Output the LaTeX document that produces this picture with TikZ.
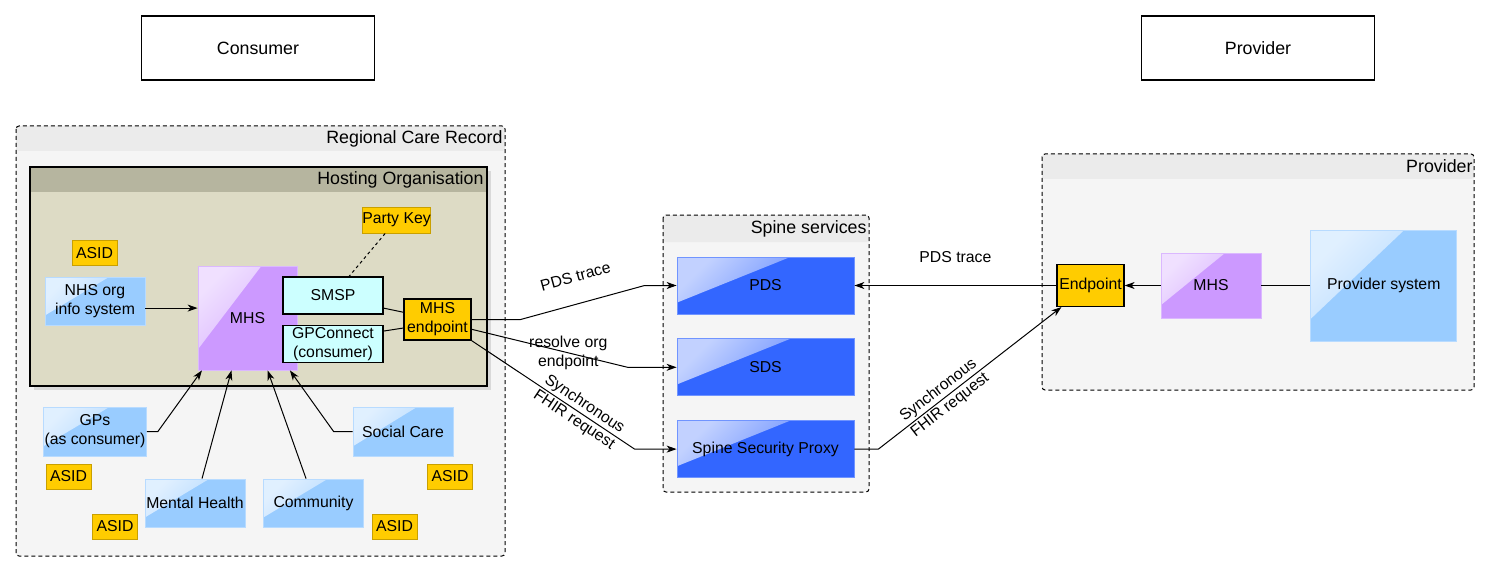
\documentclass[tikz,border=0pt]{standalone}
\usepackage{fontspec}
\setmainfont{Liberation Sans}
\usetikzlibrary{positioning,calc,arrows.meta}

\definecolor{grpbody}{HTML}{F5F5F5}
\definecolor{grphead}{HTML}{EBEBEB}
\definecolor{hostbody}{HTML}{DDDBC5}
\definecolor{hosthead}{HTML}{B6B59F}
\definecolor{sysblue}{HTML}{99CCFF}
\definecolor{mhspurple}{HTML}{CC99FF}
\definecolor{spineblue}{HTML}{3366FF}
\definecolor{keyyellow}{HTML}{FFCC00}
\definecolor{keyline}{HTML}{C9A000}
\definecolor{svccyan}{HTML}{CCFFFF}

\begin{document}
\begin{tikzpicture}[x=1pt,y=-1pt,>={Stealth[length=10pt,width=7pt,inset=3pt]},line width=1pt,
      every node/.style={font=\fontsize{15.8}{19}\selectfont,inner sep=1pt,align=center},
      glass/.style={draw=#1!70!white,line width=0.8pt,fill=#1,path picture={
        \shade[top color=#1!30!white,bottom color=#1!90!white,shading angle=45]
          (path picture bounding box.north west)
          -- ($(path picture bounding box.north west)!0.64!(path picture bounding box.north east)$)
          -- ($(path picture bounding box.north west)!0.8!(path picture bounding box.south west)$)
          -- cycle;}},
      sys node/.style={glass=sysblue,minimum width=100pt,minimum height=48pt},
      mhs node/.style={glass=mhspurple,minimum width=99pt},
      spine node/.style={glass=spineblue,minimum width=177pt,minimum height=57pt},
      asid node/.style={draw=keyline,fill=keyyellow,minimum width=45pt,minimum height=25pt},
      end node/.style={draw,line width=1.2pt,fill=keyyellow,minimum width=67pt,minimum height=41pt},
      svc node/.style={draw,line width=1.2pt,fill=svccyan,minimum width=100pt,minimum height=37pt},
      actor node/.style={draw,line width=1.2pt,fill=white,minimum width=233pt,minimum height=64pt,
        font=\fontsize{17.8}{21}\selectfont},
      group box/.style={draw,dash pattern=on 4pt off 3pt,rounded corners=3pt,fill=grpbody,path picture={
        \fill[grphead] (path picture bounding box.north west)
          rectangle ([yshift=-#1]path picture bounding box.north east);}},
      group box/.default=25pt,
      host box/.style={draw,line width=1.2pt,fill=hostbody,path picture={
        \fill[hosthead] (path picture bounding box.north west)
          rectangle ([yshift=-25pt]path picture bounding box.north east);}},
      group title/.style={anchor=east,font=\fontsize{17.8}{21}\selectfont}]
 \useasboundingbox (0,0) rectangle (1490,572);

 % containers
 \draw[group box] (16,126) rectangle (505,556);
 \node[group title] (rcrtitle) at (504,138.5) {Regional Care Record};
 \fill[black!15] (34,171) rectangle (491,390);
 \draw[host box] (30,167) rectangle (487,386);
 \node[group title] (hosttitle) at (485,180) {Hosting Organisation};
 \draw[group box=27pt] (663,215) rectangle (869,492);
 \node[group title] (spinetitle) at (868,229) {Spine services};
 \draw[group box] (1042,154) rectangle (1474,390);
 \node[group title] (provtitle) at (1474,166.5) {Provider};

 \node[actor node] (consumer) at (258,48) {Consumer};
 \node[actor node] (provider) at (1258,48) {Provider};

 % hosting organisation
 \node[asid node] (asidorg) at (94.5,253) {ASID};
 \node[sys node] (nhsorg) at (95,301) {NHS org\\info system};
 \node[mhs node, minimum height=104pt] (mhs) at (247.5,318) {MHS};
 \node[svc node] (smsp) at (333,295.5) {SMSP};
 \node[svc node, below=10pt of smsp] (gpconnect) {GPConnect\\(consumer)};
 \node[end node] (mhsend) at (437.5,319.5) {MHS\\endpoint};
 \node[asid node, minimum width=67pt, minimum height=26pt, inner sep=0pt] (partykey) at (396.5,220) {Party Key};

 % other consumers
 \node[sys node, minimum height=49pt] (gps) at (95,431.5) {GPs\\(as consumer)};
 \node[asid node] (asidgps) at (68.5,476.5) {ASID};
 \node[sys node] (mental) at (195,503) {Mental Health};
 \node[asid node] (asidmental) at (115,526.5) {ASID};
 \node[sys node] (community) at (313.5,503) {Community};
 \node[asid node] (asidcomm) at (394.5,526.5) {ASID};
 \node[sys node, minimum height=49pt] (social) at (403,431.5) {Social Care};
 \node[asid node] (asidsocial) at (450,476.5) {ASID};

 % spine
 \node[spine node] (pds) at (765.5,285.5) {PDS};
 \node[spine node, below=24pt of pds] (sds) {SDS};
 \node[spine node, below=24pt of sds] (ssp) {Spine Security Proxy};

 % provider
 \node[end node, minimum height=42pt] (endpoint) at (1090.5,285.5) {Endpoint};
 \node[mhs node, minimum width=100pt, minimum height=65pt, right=36pt of endpoint] (provmhs) {MHS};
 \node[sys node, minimum width=146pt, minimum height=111pt, right=49pt of provmhs] (provsys) {Provider system};

 \draw[->] (nhsorg.-8) -- (nhsorg.-8 -| mhs.west);
 \draw (smsp.-14) -- (mhsend.168);
 \draw (gpconnect.14) -- (mhsend.194);
 \draw[dashed] (partykey) -- (smsp);
 \draw[->] (gps.east) -- ++(11,0) -- (mhs.229);
 \draw[->] (mental.74) -- (mhs.253);
 \draw[->] (community.107) -- (mhs.291);
 \draw[->] (social.west) -- ++(-19,0) -- (mhs.309);

 \draw[->] (mhsend.east) -- ++(49,0) -- node[sloped, above=20pt] {PDS trace} ([xshift=-32pt]pds.west) -- (pds.west);
 \draw[->] (mhsend.-16) -- node[pos=0.62] {resolve org\\endpoint} ([xshift=-49pt]sds.west) -- (sds.west);
 \draw[->] (mhsend.south east) -- node[sloped, pos=0.66] {Synchronous\\FHIR request} ([xshift=-42pt]ssp.west) -- (ssp.west);

 \draw[->] (endpoint.west) -- node[above=21pt] {PDS trace} (pds.east);
 \draw[->] (provmhs) -- (endpoint);
 \draw (provsys) -- (provmhs);
 \draw[->] (ssp.east) -- ++(24,0) -- node[sloped, pos=0.36] {Synchronous\\FHIR request} ([xshift=5pt]endpoint.south west);
\end{tikzpicture}
\end{document}
